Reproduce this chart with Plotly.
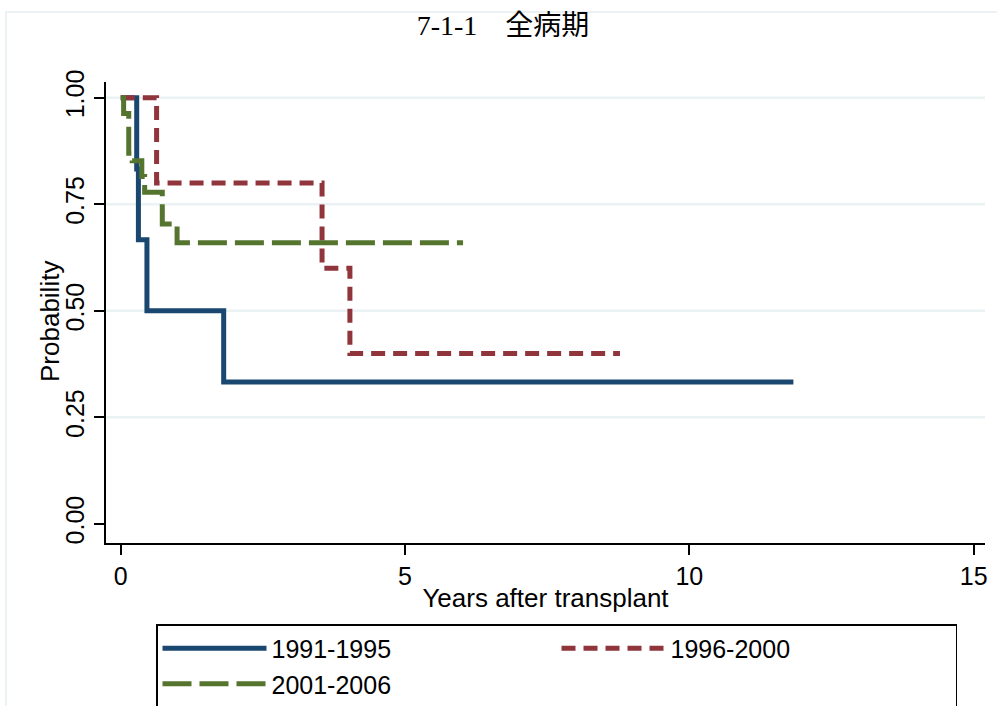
import plotly.graph_objects as go

# ---- data ----
years_9195 = [0, 0.28, 0.31, 0.46, 1.81, 11.83]
surv_9195 = [1.0, 0.833, 0.667, 0.5, 0.333, 0.333]

years_9600 = [0, 0.63, 3.54, 4.03, 8.78]
surv_9600 = [1.0, 0.8, 0.6, 0.4, 0.4]

years_0106 = [0, 0.05, 0.14, 0.2, 0.37, 0.42, 0.73, 0.99, 6.02]
surv_0106 = [1.0, 0.963, 0.87, 0.852, 0.815, 0.778, 0.704, 0.66, 0.66]

series_names = ["1991-1995", "1996-2000", "2001-2006"]
x_ticks = [0, 5, 10, 15]
prob_ticks = [0.0, 0.25, 0.5, 0.75, 1.0]
prob_labels = ["0.00", "0.25", "0.50", "0.75", "1.00"]

W, H = 997, 706
L, R, T, B = 106, 12, 82, 163
pw, ph = W - L - R, H - T - B

def px2paper_x(px):
    return (px - L) / pw

def px2paper_y(py):
    return (H - B - py) / ph

font_main = "Liberation Sans, Arial, sans-serif"

fig = go.Figure()
fig.add_trace(go.Scatter(x=years_9195, y=surv_9195, mode="lines", line_shape="hv",
                         name=series_names[0],
                         line=dict(color="#1a476f", width=5)))
fig.add_trace(go.Scatter(x=years_9600, y=surv_9600, mode="lines", line_shape="hv",
                         name=series_names[1],
                         line=dict(color="#90353b", width=5, dash="14px,8px")))
fig.add_trace(go.Scatter(x=years_0106, y=surv_0106, mode="lines", line_shape="hv",
                         name=series_names[2],
                         line=dict(color="#55752f", width=5, dash="29px,8px")))

shapes = []
for v in prob_ticks[1:]:
    shapes.append(dict(type="line", xref="paper", yref="y", x0=0, x1=1, y0=v, y1=v,
                       line=dict(color="#eaf2f3", width=2.5), layer="below"))
# outer graph-region outline
shapes.append(dict(type="rect", xref="paper", yref="paper",
                   x0=px2paper_x(6), x1=px2paper_x(1100),
                   y0=px2paper_y(900), y1=px2paper_y(12),
                   line=dict(color="#e6eef1", width=1.5), layer="below"))

annotations = [dict(text="Probability", xref="paper", yref="paper",
                    x=px2paper_x(50), y=px2paper_y(322), xanchor="center", yanchor="middle",
                    textangle=-90, showarrow=False,
                    font=dict(size=26, family=font_main, color="black"))]

fig.update_layout(
    width=W, height=H,
    margin=dict(l=L, r=R, t=T, b=B, autoexpand=False),
    paper_bgcolor="white", plot_bgcolor="white",
    font=dict(family=font_main, size=25, color="black"),
    title=dict(text="7-1-1\u3000全病期", x=px2paper_x(503), xref="paper",
               y=1 - 25 / H, yref="container", xanchor="center", yanchor="middle",
               font=dict(family="Liberation Serif, Noto Sans CJK JP", size=28, color="black")),
    shapes=shapes,
    annotations=annotations,
    showlegend=True,
    legend=dict(orientation="h", x=156 / W, y=1 - 624 / H,
                xref="container", yref="container",
                xanchor="left", yanchor="top",
                bordercolor="black", borderwidth=1.5, bgcolor="white",
                itemwidth=104, entrywidth=280, entrywidthmode="pixels",
                font=dict(size=25, family=font_main), traceorder="normal"),
    xaxis=dict(range=[-0.26, 15.2], tickvals=x_ticks, showline=True, linecolor="black",
               linewidth=1.5, ticks="outside", ticklen=10, tickwidth=1.5, tickcolor="black",
               showgrid=False, zeroline=False, automargin=False,
               tickfont=dict(size=25),
               title=dict(text="Years after transplant", standoff=0, font=dict(size=26))),
    yaxis=dict(range=[-0.045, 1.037], tickvals=prob_ticks, ticktext=prob_labels,
               tickangle=-90, showline=True, linecolor="black", linewidth=1.5,
               ticks="outside", ticklen=10, tickwidth=1.5, tickcolor="black",
               showgrid=False, zeroline=False, automargin=False, tickfont=dict(size=25)),
)

fig.write_html("out.html", config={"displayModeBar": False},
               post_script="document.body.style.margin='0px';")
